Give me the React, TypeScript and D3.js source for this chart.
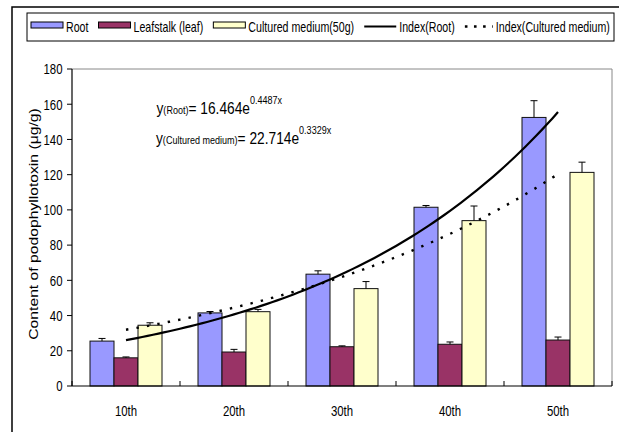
import React, { useEffect, useRef } from "react";
import * as d3 from "d3";

const categories = ["10th", "20th", "30th", "40th", "50th"];
const seriesNames = ["Root", "Leafstalk (leaf)", "Cultured medium(50g)"];
const rootValues = [25.5, 41.5, 63.5, 101.5, 152.5];
const leafValues = [16, 19.3, 22.3, 23.7, 26.1];
const mediumValues = [34.5, 42.2, 55.3, 93.9, 121.3];
const rootErrors = [1.5, 0.8, 1.9, 1.0, 9.5];
const leafErrors = [0.5, 1.5, 0.5, 1.3, 1.7];
const mediumErrors = [1.4, 1.3, 4.0, 8.3, 5.8];
const yTicks = [0, 20, 40, 60, 80, 100, 120, 140, 160, 180];
const trendNames = ["Index(Root)", "Index(Cultured medium)"];
const eqRoot = { sub: "(Root)", coef: "16.464", exp: "0.4487x" };
const eqMedium = { sub: "(Cultured medium)", coef: "22.714", exp: "0.3329x" };
const yAxisTitle = "Content of podophyllotoxin (\u03bcg/g)";

const colors = ["#9999FF", "#993366", "#FFFFCC"];
const FONT = "'Liberation Sans', Arial, sans-serif";

function expFit(vals: number[]) {
  // least squares on ln(y) vs x=1..n (Excel exponential trendline)
  const xs = vals.map((_, i) => i + 1);
  const ls = vals.map((v) => Math.log(v));
  const mx = d3.mean(xs) as number;
  const ml = d3.mean(ls) as number;
  const b = d3.sum(xs.map((x, i) => (x - mx) * (ls[i] - ml))) / d3.sum(xs.map((x) => (x - mx) ** 2));
  const a = Math.exp(ml - b * mx);
  return { a, b };
}

export default function App() {
  const ref = useRef<SVGSVGElement>(null);
  useEffect(() => {
    const svg = d3.select(ref.current);
    svg.selectAll("*").remove();
    const W = 619, H = 432;
    const left = 72, right = 612, top = 69, bottom = 386;

    // outer frame
    svg.append("path").attr("d", `M12,${H + 5} L12,7 L${W + 5},7`).attr("fill", "none").attr("stroke", "#000").attr("stroke-width", 1.5);

    const x0 = d3.scaleBand<string>().domain(categories).range([left, right]).paddingInner(1 / 3).paddingOuter(1 / 6);
    const x1 = d3.scaleBand<number>().domain([0, 1, 2]).range([0, x0.bandwidth()]);
    const y = d3.scaleLinear().domain([0, 180]).range([bottom, top]);

    // plot frame (top/right)
    svg.append("path").attr("d", `M${left},${top} L${right},${top} L${right},${bottom}`).attr("fill", "none").attr("stroke", "#888").attr("stroke-width", 1);

    const allVals = [rootValues, leafValues, mediumValues];
    const allErr = [rootErrors, leafErrors, mediumErrors];

    // bars
    allVals.forEach((vals, s) => {
      const g = svg.append("g");
      g.selectAll("rect").data(vals).enter().append("rect")
        .attr("x", (_, i) => (x0(categories[i]) as number) + (x1(s) as number))
        .attr("y", (d) => y(d))
        .attr("width", x1.bandwidth())
        .attr("height", (d) => bottom - y(d))
        .attr("fill", colors[s])
        .attr("stroke", "#111")
        .attr("stroke-width", 1);
    });
    // error bars
    allVals.forEach((vals, s) => {
      vals.forEach((v, i) => {
        const cx = (x0(categories[i]) as number) + (x1(s) as number) + x1.bandwidth() / 2;
        const yt = y(v + allErr[s][i]);
        svg.append("line").attr("x1", cx).attr("x2", cx).attr("y1", y(v)).attr("y2", yt).attr("stroke", "#000").attr("stroke-width", 1);
        svg.append("line").attr("x1", cx - 3.5).attr("x2", cx + 3.5).attr("y1", yt).attr("y2", yt).attr("stroke", "#000").attr("stroke-width", 1);
      });
    });

    // axes
    svg.append("line").attr("x1", left).attr("x2", left).attr("y1", top).attr("y2", bottom).attr("stroke", "#000").attr("stroke-width", 1.2);
    svg.append("line").attr("x1", left).attr("x2", right).attr("y1", bottom).attr("y2", bottom).attr("stroke", "#000").attr("stroke-width", 1.2);
    yTicks.forEach((t) => {
      svg.append("line").attr("x1", left - 5).attr("x2", left).attr("y1", y(t)).attr("y2", y(t)).attr("stroke", "#000");
      svg.append("text").attr("transform", `translate(${left - 9.5},${y(t) + 5.3}) scale(0.76,1)`)
        .attr("text-anchor", "end").attr("font-family", FONT).attr("font-size", 15).attr("fill", "#000").text(String(t));
    });
    const step = x0.step();
    for (let k = 0; k <= categories.length; k++) {
      const xx = left + k * step;
      svg.append("line").attr("x1", xx).attr("x2", xx).attr("y1", bottom - 5).attr("y2", bottom).attr("stroke", "#000");
    }
    categories.forEach((c) => {
      const cx = (x0(c) as number) + x0.bandwidth() / 2;
      svg.append("text").attr("transform", `translate(${cx},415.5) scale(0.76,1)`)
        .attr("text-anchor", "middle").attr("font-family", FONT).attr("font-size", 15).attr("fill", "#000").text(c);
    });

    // y title
    svg.append("text").attr("transform", `translate(38,224) rotate(-90) scale(1,0.85)`)
      .attr("text-anchor", "middle").attr("font-family", FONT).attr("font-size", 15.7).attr("fill", "#000").text(yAxisTitle);

    // trend lines
    const cxOf = (t: number) => (x0(categories[0]) as number) + x0.bandwidth() / 2 + (t - 1) * step;
    const fits = [expFit(rootValues), expFit(mediumValues)];
    const samples = d3.range(1, 5.0001, 0.05);
    fits.forEach((f, k) => {
      const ln = d3.line<number>().x((t) => cxOf(t)).y((t) => y(f.a * Math.exp(f.b * t)));
      const p = svg.append("path").attr("d", ln(samples) as string).attr("fill", "none").attr("stroke", "#000");
      if (k === 0) p.attr("stroke-width", 2.2);
      else p.attr("stroke-width", 2.4).attr("stroke-dasharray", "2.4,8.2");
    });

    // equations
    const eq = (e: typeof eqRoot, xx: number, yy: number) => {
      const t = svg.append("text").attr("transform", `translate(${xx},${yy}) scale(0.86,1)`)
        .attr("font-family", FONT).attr("font-size", 16).attr("fill", "#000");
      t.append("tspan").text("y");
      t.append("tspan").attr("font-size", 10.5).text(e.sub);
      t.append("tspan").text("= " + e.coef + "e");
      t.append("tspan").attr("font-size", 10.5).attr("dy", -10).text(e.exp);
    };
    eq(eqRoot, 156.5, 113.5);
    eq(eqMedium, 156, 144);

    // legend
    svg.append("rect").attr("x", 27).attr("y", 13).attr("width", 587).attr("height", 28).attr("fill", "#fff").attr("stroke", "#000").attr("stroke-width", 1);
    const items = [
      { label: seriesNames[0], kind: "bar", c: colors[0] },
      { label: seriesNames[1], kind: "bar", c: colors[1] },
      { label: seriesNames[2], kind: "bar", c: colors[2] },
      { label: trendNames[0], kind: "solid", c: "#000" },
      { label: trendNames[1], kind: "dot", c: "#000" },
    ];
    const sx = 0.76;
    const lg = svg.append("g");
    const texts = items.map((it) => lg.append("text").attr("font-family", FONT).attr("font-size", 14).attr("fill", "#000").text(it.label));
    const widths = texts.map((t) => (t.node() as SVGTextElement).getComputedTextLength() * sx);
    const symW = items.map((it) => (it.kind === "dot" ? 28 : 32));
    const startX = 31, endX = 610;
    const used = d3.sum(widths) + d3.sum(symW) + items.length * 3;
    const gap = (endX - startX - used) / (items.length - 1);
    let cur = startX;
    items.forEach((it, i) => {
      if (it.kind === "bar") {
        lg.append("rect").attr("x", cur).attr("y", 22).attr("width", symW[i]).attr("height", 6).attr("fill", it.c).attr("stroke", "#000").attr("stroke-width", 1);
      } else if (it.kind === "solid") {
        lg.append("line").attr("x1", cur).attr("x2", cur + symW[i]).attr("y1", 26.5).attr("y2", 26.5).attr("stroke", "#000").attr("stroke-width", 2);
      } else {
        lg.append("line").attr("x1", cur).attr("x2", cur + symW[i]).attr("y1", 26.5).attr("y2", 26.5).attr("stroke", "#000").attr("stroke-width", 2.6).attr("stroke-dasharray", "2.6,6.5");
      }
      cur += symW[i] + 3;
      texts[i].attr("transform", `translate(${cur},32) scale(${sx},1)`);
      cur += widths[i] + gap;
    });
  }, []);
  return (
    <svg ref={ref} width={619} height={432} style={{ position: "absolute", left: 0, top: 0, background: "#fff" }} />
  );
}
